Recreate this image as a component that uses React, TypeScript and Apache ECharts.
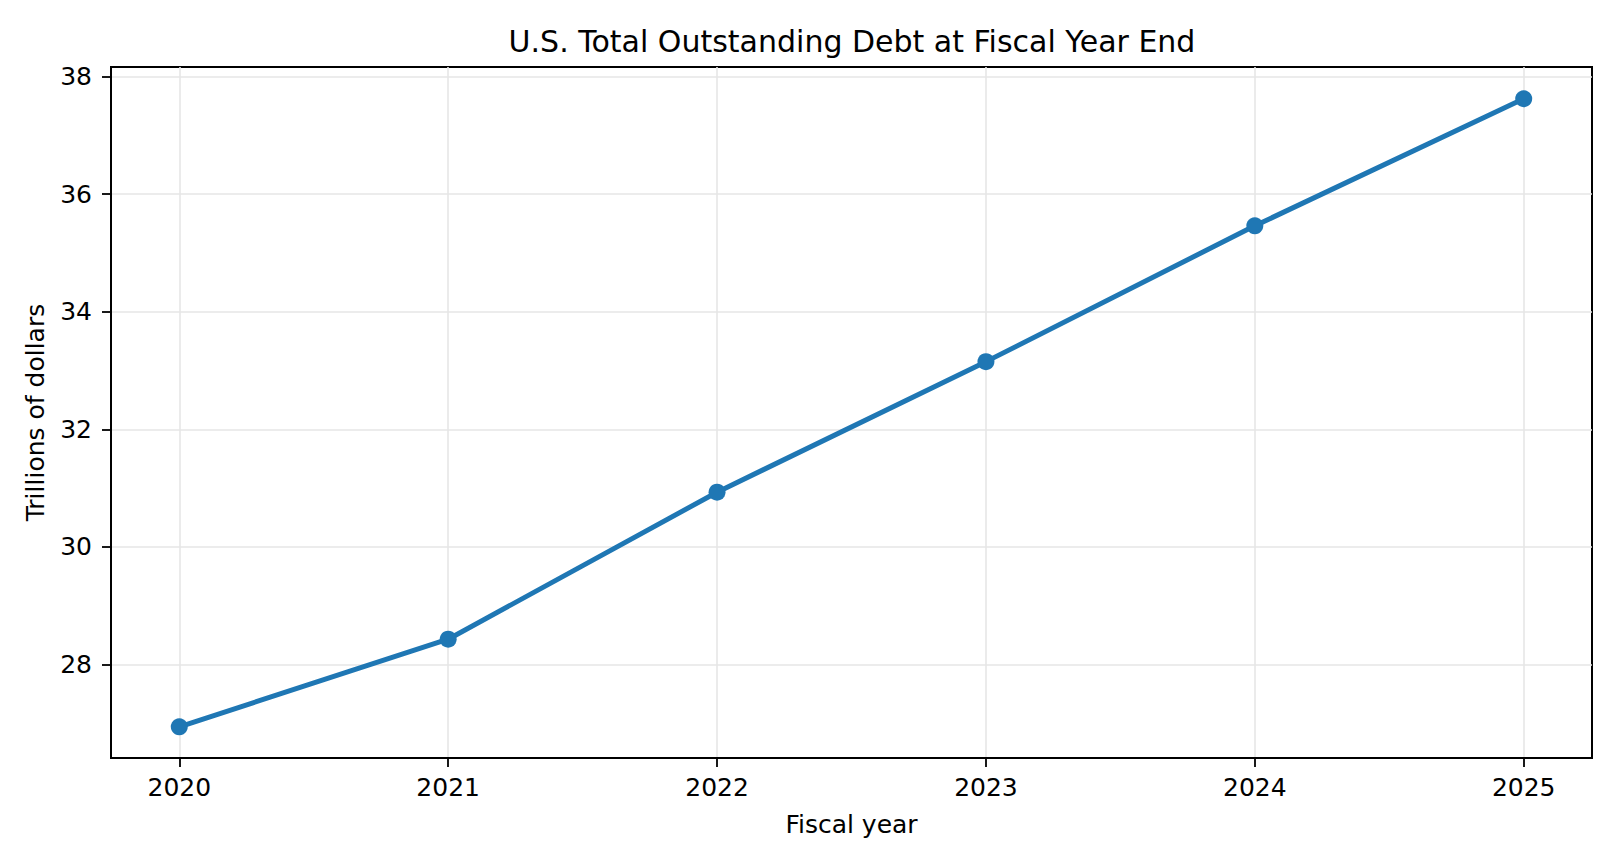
import { useEffect, useRef } from 'react';
import * as echarts from 'echarts';

const years = [2020, 2021, 2022, 2023, 2024, 2025];
const debtTrillions = [26.94, 28.43, 30.93, 33.15, 35.46, 37.62];
const yTicks = [28, 30, 32, 34, 36, 38];

const FONT = 'DejaVu Sans';

export default function App() {
  const chartRef = useRef<HTMLDivElement>(null);

  useEffect(() => {
    document.body.style.margin = '0';
    if (!chartRef.current) return;
    const chart = echarts.init(chartRef.current, undefined, { renderer: 'svg' });

    const option: echarts.EChartsOption = {
      animation: false,
      backgroundColor: '#ffffff',
      title: {
        text: 'U.S. Total Outstanding Debt at Fiscal Year End',
        left: 847,
        top: 21,
        textAlign: 'center',
        textStyle: {
          fontFamily: FONT,
          fontSize: 30,
          fontWeight: 'normal',
          color: '#000000',
        },
      },
      grid: {
        left: 111,
        top: 67,
        right: 28,
        bottom: 106,
        show: true,
        borderColor: '#000000',
        borderWidth: 2,
        backgroundColor: 'transparent',
      },
      xAxis: {
        type: 'value',
        min: 2019.746,
        max: 2025.254,
        name: 'Fiscal year',
        nameLocation: 'middle',
        nameGap: 54,
        nameTextStyle: { fontFamily: FONT, fontSize: 25, color: '#000000' },
        axisLine: { show: true, onZero: false, lineStyle: { color: '#000000', width: 2 } },
        axisTick: {
          show: true,
          length: 9,
          lineStyle: { color: '#000000', width: 1.8 },
          customValues: years,
        },
        axisLabel: {
          fontFamily: FONT,
          fontSize: 25,
          color: '#000000',
          margin: 17,
          customValues: years,
          formatter: (v: number) => String(v),
        },
        splitLine: { show: true, lineStyle: { color: '#e6e6e6', width: 1.6 } },
      },
      yAxis: {
        type: 'value',
        min: 26.41,
        max: 38.16,
        name: 'Trillions of dollars',
        nameLocation: 'middle',
        nameGap: 63,
        nameRotate: 90,
        nameTextStyle: { fontFamily: FONT, fontSize: 25, color: '#000000' },
        axisLine: { show: true, onZero: false, lineStyle: { color: '#000000', width: 2 } },
        axisTick: {
          show: true,
          length: 9,
          lineStyle: { color: '#000000', width: 1.8 },
          customValues: yTicks,
        },
        axisLabel: {
          fontFamily: FONT,
          fontSize: 25,
          color: '#000000',
          margin: 19,
          customValues: yTicks,
          formatter: (v: number) => String(v),
        },
        splitLine: { show: true, lineStyle: { color: '#e6e6e6', width: 1.6 } },
      },
      series: [
        {
          type: 'line',
          data: years.map((y, i) => [y, debtTrillions[i]]),
          symbol: 'circle',
          symbolSize: 17,
          lineStyle: { color: '#1f77b4', width: 5 },
          itemStyle: { color: '#1f77b4' },
          z: 5,
        },
      ],
    };

    chart.setOption(option);

    return () => {
      chart.dispose();
    };
  }, []);

  return <div ref={chartRef} style={{ width: 1620, height: 864 }} />;
}
